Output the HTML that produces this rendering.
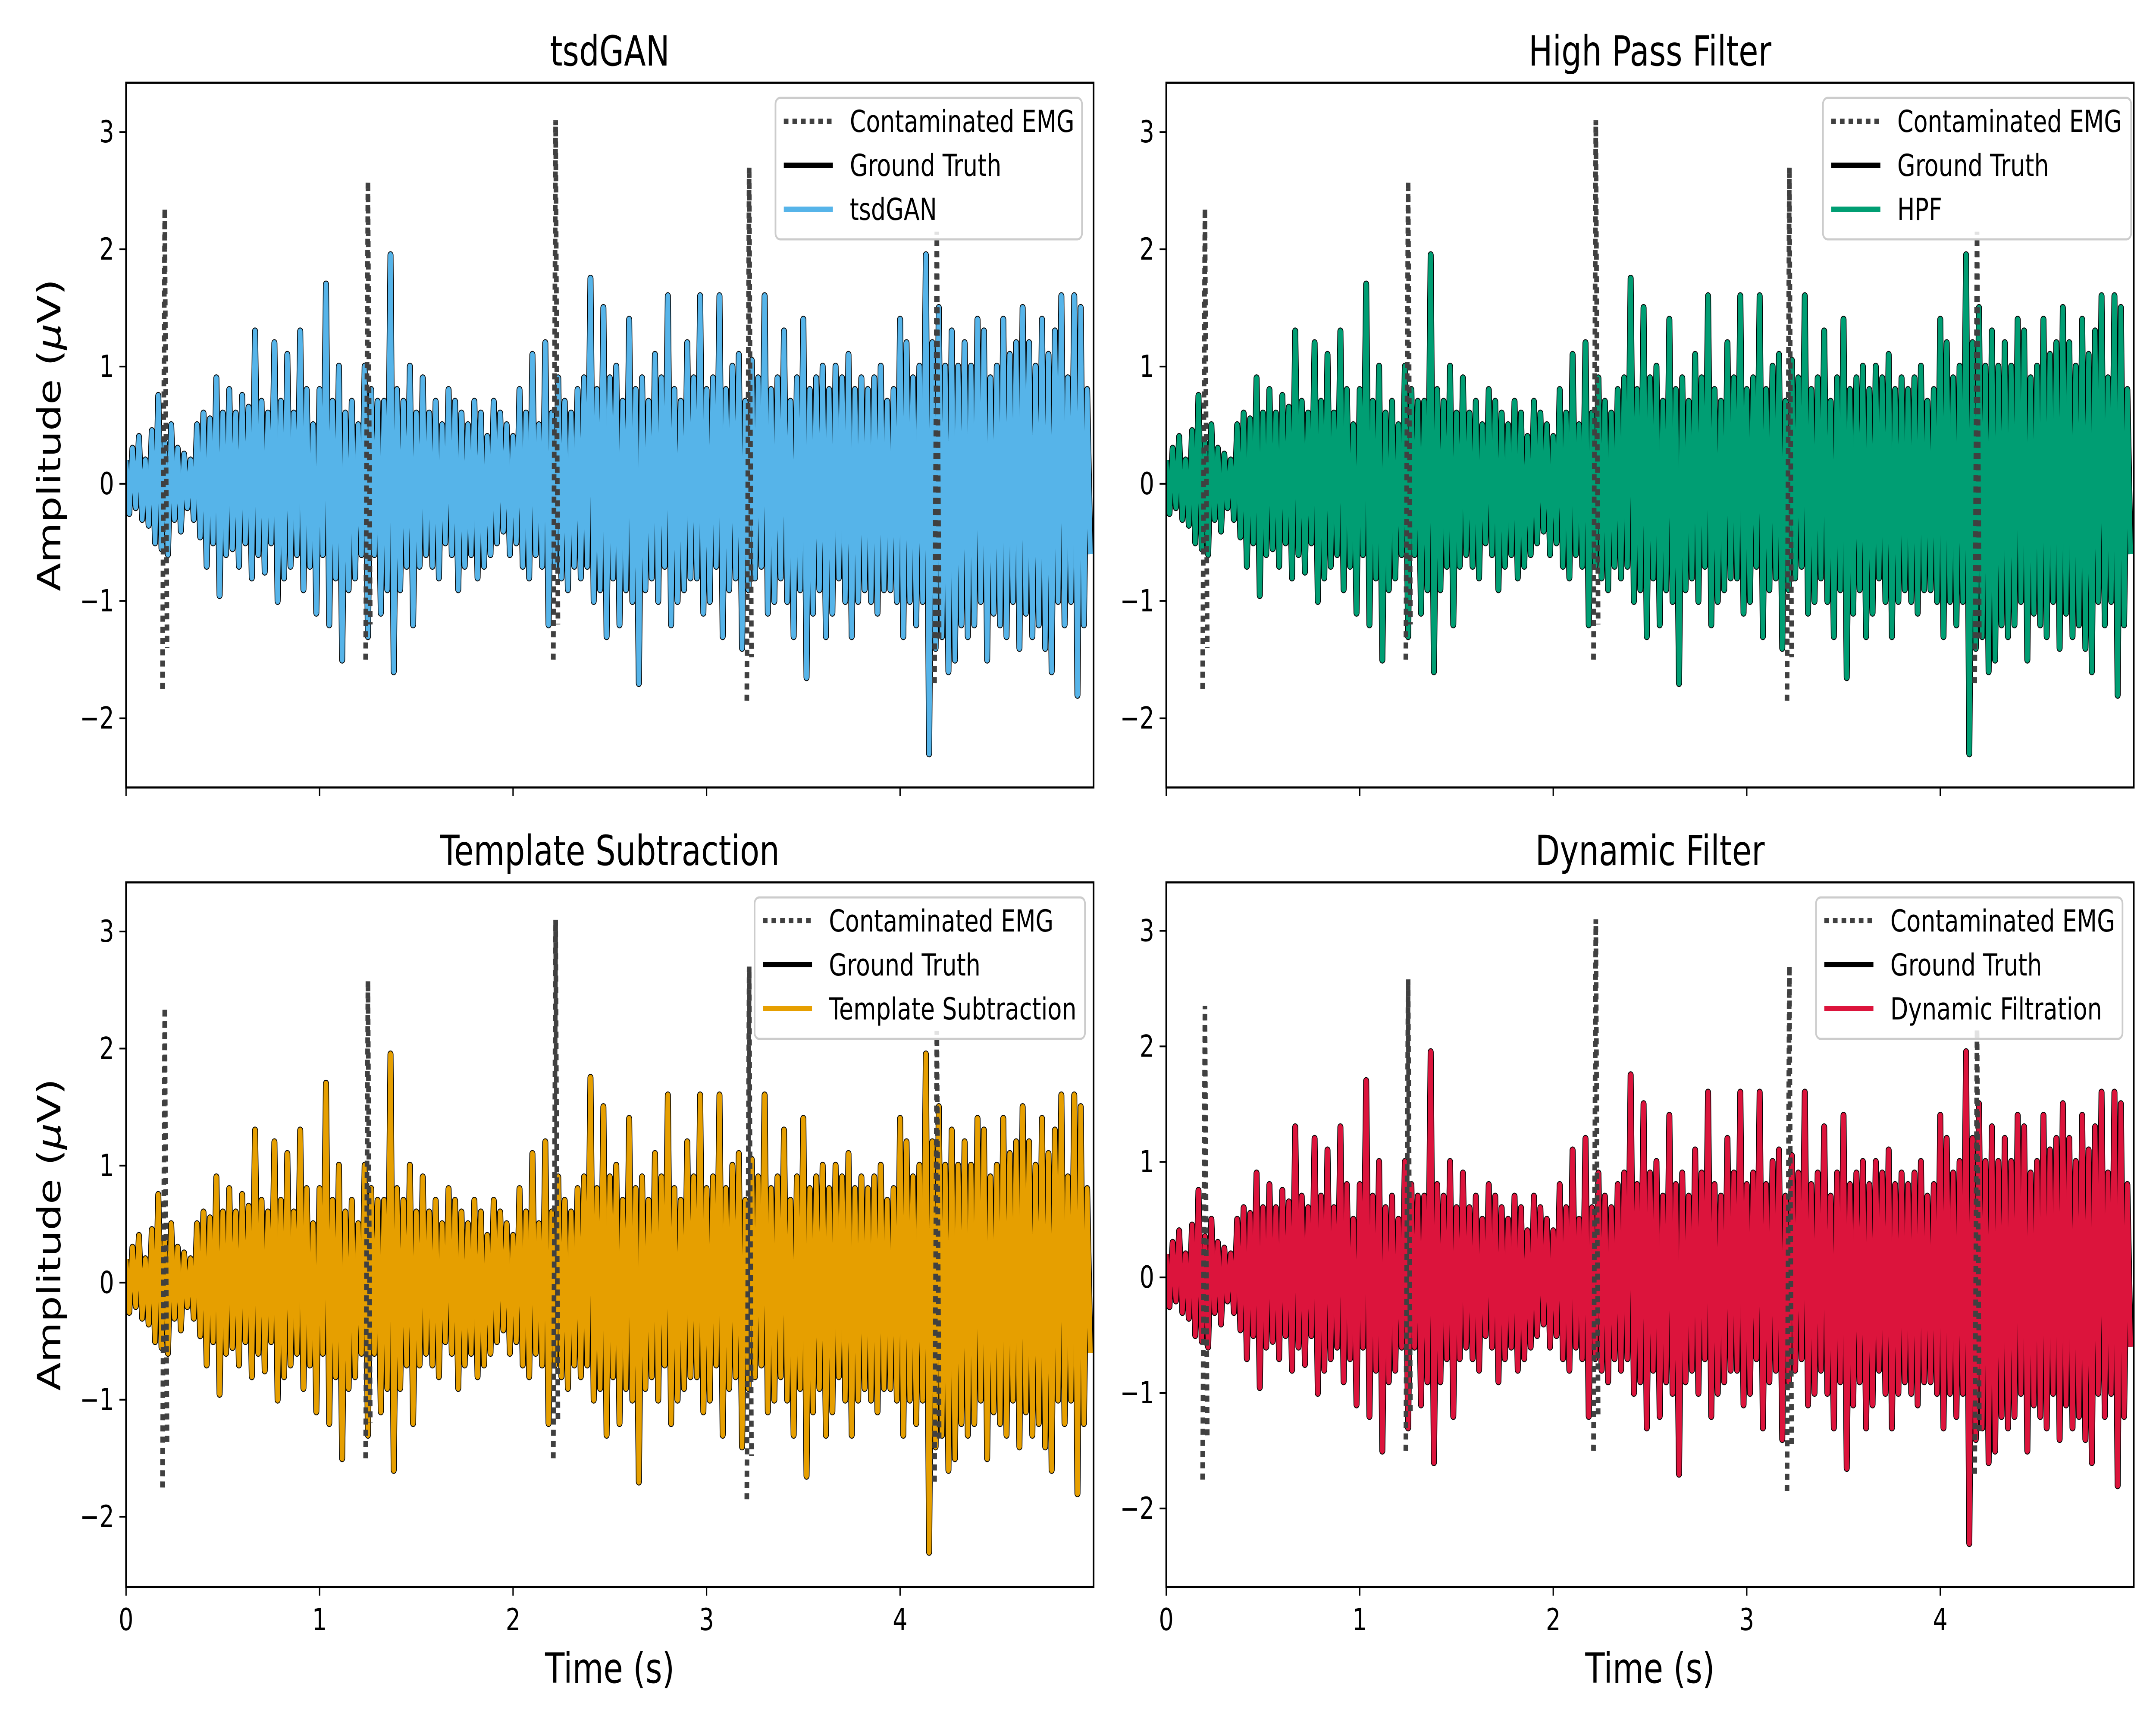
<!DOCTYPE html>
<html><head><meta charset="utf-8"><style>
html,body{margin:0;padding:0;background:#fff;width:100%;height:100%;overflow:hidden;}
svg{display:block;width:100vw;height:100vh;font-family:"DejaVu Sans","Liberation Sans",sans-serif;}
</style></head><body>
<svg id="fig" viewBox="0 0 6500 4000" preserveAspectRatio="none" xmlns="http://www.w3.org/2000/svg"></svg>
<script>
const groundTruth = [
0.2,-0.25,0.3,-0.2,0.4,-0.3,0.2,-0.35,0.45,-0.5,0.75,-0.55,0.35,-0.6,0.5,-0.3,0.3,-0.4,0.25,-0.2,
0.2,-0.3,0.5,-0.45,0.6,-0.7,0.55,-0.5,0.9,-0.95,0.6,-0.6,0.8,-0.55,0.6,-0.7,0.75,-0.5,0.65,-0.8,
1.3,-0.6,0.7,-0.75,0.6,-0.5,1.2,-1.0,0.7,-0.8,1.1,-0.7,0.6,-0.6,1.3,-0.9,0.8,-0.7,0.5,-1.1,
0.8,-0.6,1.7,-1.2,0.7,-0.8,1.0,-1.5,0.6,-0.9,0.7,-0.8,0.5,-0.6,1.0,-1.3,0.8,-0.6,0.7,-1.1,
0.7,-0.9,1.95,-1.6,0.8,-0.9,0.7,-0.7,1.0,-1.2,0.6,-0.7,0.9,-0.6,0.6,-0.7,0.7,-0.8,0.5,-0.5,
0.8,-0.6,0.7,-0.9,0.6,-0.7,0.5,-0.6,0.7,-0.8,0.6,-0.7,0.4,-0.6,0.7,-0.5,0.6,-0.4,0.5,-0.6,
0.4,-0.5,0.8,-0.7,0.6,-0.8,1.1,-0.6,0.5,-0.7,1.2,-1.2,0.6,-0.7,0.9,-0.8,0.7,-0.9,0.6,-0.7,
0.8,-0.8,0.9,-0.7,1.75,-1.0,0.8,-0.9,1.5,-1.3,0.9,-0.8,1.0,-1.2,0.7,-0.9,1.4,-1.0,0.8,-1.7,
0.9,-0.9,0.7,-0.8,1.1,-1.0,0.9,-0.7,1.6,-1.2,0.8,-1.0,0.7,-0.9,1.2,-0.8,0.9,-0.8,1.6,-1.1,
0.8,-1.0,0.9,-0.7,1.6,-1.3,0.8,-0.9,1.0,-0.8,1.1,-1.4,0.7,-0.9,1.05,-0.8,0.9,-0.7,1.6,-1.1,
0.8,-1.0,0.9,-0.8,1.3,-1.0,0.7,-1.3,0.9,-0.9,1.4,-1.65,0.8,-1.1,0.9,-0.9,1.0,-1.3,0.8,-1.1,
1.0,-0.8,0.9,-1.0,1.1,-1.3,0.8,-1.0,0.9,-0.9,0.8,-1.0,0.9,-1.1,1.0,-0.9,0.7,-0.9,0.8,-1.0,
1.4,-1.3,1.2,-1.0,0.9,-1.2,1.0,-1.0,1.95,-2.3,1.2,-1.4,1.5,-1.3,1.0,-1.6,1.3,-1.5,1.0,-1.2,
1.2,-1.3,1.0,-1.2,1.4,-1.0,1.3,-1.5,0.9,-1.1,1.0,-1.2,1.4,-1.3,1.1,-1.0,1.2,-1.4,1.5,-1.1,
1.2,-1.3,1.0,-1.2,1.4,-1.4,1.1,-1.6,1.3,-1.0,1.6,-1.2,0.9,-1.0,1.6,-1.8,1.5,-1.2,0.8,-0.6
];
const sampleDuration = 5.0;
const tsdganValues = groundTruth.slice();
const hpfValues = groundTruth.slice();
const templateValues = groundTruth.slice();
const dynamicValues = groundTruth.slice();
const spikeTimes = [0.20, 1.25, 2.22, 3.22, 4.19];
const spikeHigh = [2.35, 2.58, 3.1, 2.7, 2.15];
const spikeLow = [-1.75, -1.5, -1.5, -1.85, -1.7];
const xTicks = [0, 1, 2, 3, 4];
const yTicks = [-2, -1, 0, 1, 2, 3];

const NS = "http://www.w3.org/2000/svg";
const svg = document.getElementById('fig');
function mk(tag, attrs, parent) {
  const e = document.createElementNS(NS, tag);
  for (const k in attrs) e.setAttribute(k, attrs[k]);
  (parent || svg).appendChild(e);
  return e;
}
const panels = [
  {title:"tsdGAN", x:380, y:192, color:"#56B4E9", label:"tsdGAN", vals:tsdganValues, ymin:-2.59, ymax:3.42, legX:2338, legW:924, xlab:false, ylab:true, name:"tsdgan"},
  {title:"High Pass Filter", x:3516, y:192, color:"#009E73", label:"HPF", vals:hpfValues, ymin:-2.59, ymax:3.42, legX:5496, legW:929, xlab:false, ylab:false, name:"hpf"},
  {title:"Template Subtraction", x:380, y:2046, color:"#E69F00", label:"Template Subtraction", vals:templateValues, ymin:-2.6, ymax:3.42, legX:2275, legW:996, xlab:true, ylab:true, name:"template"},
  {title:"Dynamic Filter", x:3516, y:2046, color:"#DC143C", label:"Dynamic Filtration", vals:dynamicValues, ymin:-2.68, ymax:3.42, legX:5475, legW:924, xlab:true, ylab:false, name:"dynamic"}
];
const W = 2917, H = 1634;
panels.forEach(p => {
  const g = mk('g', {});
  
  
  const xs = t => p.x + t / sampleDuration * W;
  const ys = v => p.y + (p.ymax - v) / (p.ymax - p.ymin) * H;
  const clipId = 'clip-' + p.name;
  const cp = mk('clipPath', {id: clipId}, g);
  mk('rect', {x:p.x, y:p.y, width:W, height:H}, cp);
  const plot = mk('g', {'clip-path':'url(#' + clipId + ')'}, g);
  const n = groundTruth.length;
  const dt = sampleDuration / n;
  const pts = arr => arr.map((v, i) => xs(i * dt).toFixed(1) + ',' + ys(v).toFixed(1)).join(' ');
  const cont = mk('polyline', {points: pts(groundTruth), fill:'none', stroke:'#404040', 'stroke-width':8, 'stroke-dasharray':'8 14'}, plot);
  
  
  const gt = mk('polyline', {points: pts(groundTruth), fill:'none', stroke:'#000', 'stroke-width':18, 'stroke-linejoin':'round'}, plot);
  
  
  const m = mk('polyline', {points: pts(p.vals), fill:'none', stroke:p.color, 'stroke-width':14, 'stroke-linejoin':'round'}, plot);
  
  
  spikeTimes.forEach((t, i) => {
    const d = 'M' + xs(t - 0.012) + ',' + ys(spikeLow[i]) + ' L' + xs(t) + ',' + ys(spikeHigh[i]) + ' L' + xs(t + 0.012) + ',' + ys(spikeLow[i] * 0.8);
    const s = mk('path', {d: d, fill:'none', stroke:'#404040', 'stroke-width':14, 'stroke-dasharray':'14 12'}, plot);
    
    
  });
  const frame = mk('rect', {x:p.x, y:p.y, width:W, height:H, fill:'none', stroke:'#000', 'stroke-width':5}, g);
  
  
  yTicks.forEach(v => {
    mk('line', {x1:p.x - 20, x2:p.x, y1:ys(v), y2:ys(v), stroke:'#000', 'stroke-width':4}, g);
    const tl = mk('text', {x:p.x - 36, y:ys(v) + 24, 'text-anchor':'end', 'font-size':70}, g);
    tl.textContent = v < 0 ? '\u2212' + Math.abs(v) : String(v);
    
    
  });
  xTicks.forEach(v => {
    mk('line', {x1:xs(v), x2:xs(v), y1:p.y + H, y2:p.y + H + 20, stroke:'#000', 'stroke-width':4}, g);
    if (p.xlab) {
      const tl = mk('text', {x:xs(v), y:p.y + H + 100, 'text-anchor':'middle', 'font-size':70}, g);
      tl.textContent = String(v);
      
      
    }
  });
  const title = mk('text', {x:p.x + W / 2, y:p.y - 40, 'text-anchor':'middle', 'font-size':96}, g);
  title.textContent = p.title;
  
  
  if (p.xlab) {
    const xl = mk('text', {x:p.x + W / 2, y:p.y + H + 222, 'text-anchor':'middle', 'font-size':96}, g);
    xl.textContent = 'Time (s)';
    
    
  }
  if (p.ylab) {
    const cy = p.y + H / 2;
    const yl = mk('text', {x:148, y:cy, 'text-anchor':'middle', 'font-size':96, transform:'rotate(-90 148 ' + cy + ')', dy:34}, g);
    yl.innerHTML = 'Amplitude (<tspan font-style="italic">\u03BC</tspan>V)';
    
    
  }
  const lg = mk('g', {}, g);
  
  
  mk('rect', {x:p.legX, y:p.y + 35, width:p.legW, height:328, rx:14, fill:'#fff', 'fill-opacity':0.85, stroke:'#ccc', 'stroke-width':5}, lg);
  const entries = [
    {label:'Contaminated EMG', stroke:'#404040', dash:'14 12', name:'legend-entry-contaminated'},
    {label:'Ground Truth', stroke:'#000', dash:'', name:'legend-entry-ground-truth'},
    {label:p.label, stroke:p.color, dash:'', name:'legend-entry-' + p.name}
  ];
  entries.forEach((e, i) => {
    const ey = p.y + 89 + i * 102;
    const eg = mk('g', {}, lg);
    
    
    const la = {x1:p.legX + 25, x2:p.legX + 173, y1:ey, y2:ey, stroke:e.stroke, 'stroke-width':12};
    if (e.dash) la['stroke-dasharray'] = e.dash;
    mk('line', la, eg);
    const t = mk('text', {x:p.legX + 224, y:ey + 25, 'font-size':70}, eg);
    t.textContent = e.label;
  });
});
</script>
</body></html>
